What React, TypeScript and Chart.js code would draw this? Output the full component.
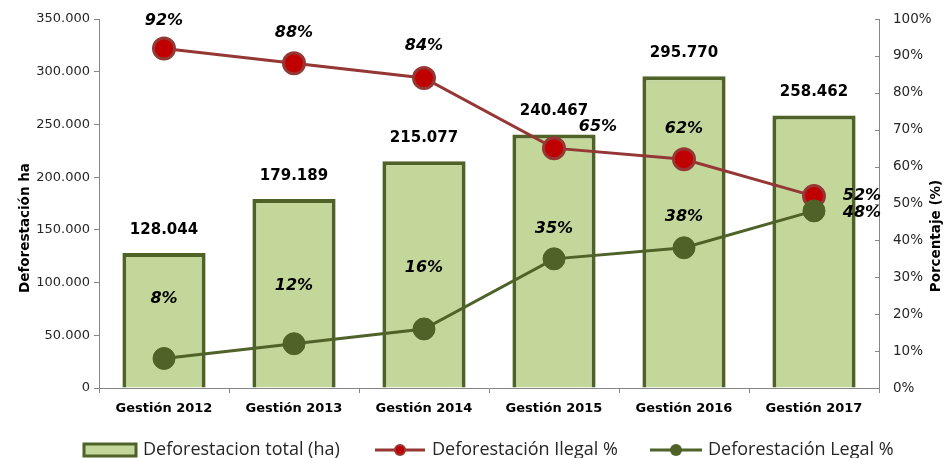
import React, { useEffect, useRef } from "react";
import { Chart, registerables } from "chart.js";

Chart.register(...registerables);

const categories = ["Gestión 2012", "Gestión 2013", "Gestión 2014", "Gestión 2015", "Gestión 2016", "Gestión 2017"];
const totalHa = [128044, 179189, 215077, 240467, 295770, 258462];
const ilegalPct = [92, 88, 84, 65, 62, 52];
const legalPct = [8, 12, 16, 35, 38, 48];
const leftTicks = [0, 50000, 100000, 150000, 200000, 250000, 300000, 350000];

const ilegalOffsets = [[0, -28], [0, -30], [0, -32], [44, -21], [0, -30], [48, 0]];
const legalOffsets = [[0, -60], [0, -58], [0, -61], [0, -30], [0, -31], [48, 2]];

const GREEN = "#4F6228";
const BAR_FILL = "#C4D79B";
const RED_LINE = "#953735";
const RED_FILL = "#C00000";
const AXIS = "#868686";

const fmt = (v: number) => {
  const s = Math.round(v).toString();
  return s.replace(/\B(?=(\d{3})+(?!\d))/g, ".");
};

const labelsPlugin = {
  id: "customLabels",
  afterDatasetsDraw(chart: any) {
    const ctx = chart.ctx;
    ctx.save();
    ctx.textAlign = "center";
    ctx.textBaseline = "middle";
    ctx.fillStyle = "#000";
    const barMeta = chart.getDatasetMeta(0);
    ctx.font = "bold 15px 'DejaVu Sans'";
    barMeta.data.forEach((el: any, i: number) => {
      ctx.fillText(fmt(totalHa[i]), el.x, el.y - 23);
    });
    ctx.font = "italic bold 16px 'DejaVu Sans'";
    const m1 = chart.getDatasetMeta(1);
    m1.data.forEach((el: any, i: number) => {
      const [dx, dy] = ilegalOffsets[i];
      ctx.fillText(ilegalPct[i] + "%", el.x + dx, el.y + dy);
    });
    const m2 = chart.getDatasetMeta(2);
    m2.data.forEach((el: any, i: number) => {
      const [dx, dy] = legalOffsets[i];
      ctx.fillText(legalPct[i] + "%", el.x + dx, el.y + dy);
    });
    ctx.restore();
  },
  afterDraw(chart: any) {
    const ctx = chart.ctx;
    const area = chart.chartArea;
    ctx.save();
    const y1 = chart.scales.y1;
    ctx.strokeStyle = AXIS;
    ctx.lineWidth = 1;
    y1.ticks.forEach((t: any) => {
      const yy = Math.round(y1.getPixelForValue(t.value)) + 0.5;
      ctx.beginPath();
      ctx.moveTo(area.right - 4, yy);
      ctx.lineTo(area.right, yy);
      ctx.stroke();
    });
    ctx.fillStyle = "#000";
    ctx.font = "bold 13.5px 'DejaVu Sans'";
    ctx.textAlign = "center";
    ctx.textBaseline = "middle";
    ctx.save();
    ctx.translate(25, 228);
    ctx.rotate(-Math.PI / 2);
    ctx.fillText("Deforestación ha", 0, 0);
    ctx.restore();
    ctx.save();
    ctx.translate(936, 236);
    ctx.rotate(-Math.PI / 2);
    ctx.fillText("Porcentaje (%)", 0, 0);
    ctx.restore();

    const ly = 450;
    ctx.font = "18px 'Open Sans'";
    ctx.textAlign = "left";
    ctx.fillStyle = BAR_FILL;
    ctx.fillRect(84, 444, 52, 12);
    ctx.strokeStyle = GREEN;
    ctx.lineWidth = 3;
    ctx.strokeRect(84, 444, 52, 12);
    ctx.fillStyle = "#262626";
    ctx.fillText("Deforestacion total (ha)", 143, ly);
    ctx.strokeStyle = RED_LINE;
    ctx.lineWidth = 3;
    ctx.beginPath();
    ctx.moveTo(375, ly);
    ctx.lineTo(425, ly);
    ctx.stroke();
    ctx.beginPath();
    ctx.arc(400, ly, 5, 0, Math.PI * 2);
    ctx.fillStyle = RED_FILL;
    ctx.fill();
    ctx.lineWidth = 2;
    ctx.stroke();
    ctx.fillStyle = "#262626";
    ctx.fillText("Deforestación Ilegal %", 432, ly);
    ctx.strokeStyle = GREEN;
    ctx.lineWidth = 3;
    ctx.beginPath();
    ctx.moveTo(650, ly);
    ctx.lineTo(702, ly);
    ctx.stroke();
    ctx.beginPath();
    ctx.arc(676, ly, 6, 0, Math.PI * 2);
    ctx.fillStyle = GREEN;
    ctx.fill();
    ctx.fillStyle = "#262626";
    ctx.fillText("Deforestación Legal %", 708, ly);
    ctx.restore();
  },
};

export default function App() {
  const ref = useRef<HTMLCanvasElement>(null);
  useEffect(() => {
    document.body.style.margin = "0";
    const chart = new Chart(ref.current as HTMLCanvasElement, {
      type: "bar",
      data: {
        labels: categories,
        datasets: [
          {
            type: "bar",
            label: "Deforestacion total (ha)",
            data: totalHa,
            backgroundColor: BAR_FILL,
            borderColor: GREEN,
            borderWidth: 4,
            barPercentage: 0.64,
            categoryPercentage: 1,
            yAxisID: "y",
            order: 2,
          },
          {
            type: "line",
            label: "Deforestación Ilegal %",
            data: ilegalPct,
            borderColor: RED_LINE,
            borderWidth: 3,
            pointRadius: 10.5,
            pointBackgroundColor: RED_FILL,
            pointBorderColor: RED_LINE,
            pointBorderWidth: 3,
            yAxisID: "y1",
            order: 1,
          },
          {
            type: "line",
            label: "Deforestación Legal %",
            data: legalPct,
            borderColor: GREEN,
            borderWidth: 3,
            pointRadius: 11,
            pointBackgroundColor: GREEN,
            pointBorderColor: GREEN,
            pointBorderWidth: 1,
            yAxisID: "y1",
            order: 0,
          },
        ],
      },
      options: {
        animation: false,
        responsive: false,
        layout: { padding: { top: 19, bottom: 40, left: 0, right: 0 } },
        plugins: { legend: { display: false }, tooltip: { enabled: false } },
        scales: {
          x: {
            offset: true,
            grid: { display: true, drawOnChartArea: false, drawTicks: true, tickLength: 5, color: AXIS, offset: true },
            border: { color: AXIS, width: 1 },
            ticks: { color: "#000", font: { family: "DejaVu Sans", size: 13, weight: "bold" }, padding: 8 },
            afterFit: (s: any) => { s.height = 30; s.paddingLeft = 0; s.paddingRight = 0; },
          },
          y: {
            position: "left",
            min: 0,
            max: 350000,
            afterBuildTicks: (s: any) => { s.ticks = leftTicks.map((v) => ({ value: v })); },
            grid: { drawOnChartArea: false, drawTicks: true, tickLength: 5, color: AXIS },
            border: { color: AXIS, width: 1 },
            ticks: { color: "#262626", font: { family: "DejaVu Sans", size: 13 }, padding: 4, callback: (v: any) => fmt(Number(v)) },
            afterFit: (s: any) => { s.width = 99; s.paddingTop = 0; s.paddingBottom = 0; },
          },
          y1: {
            position: "right",
            min: 0,
            max: 100,
            grid: { drawOnChartArea: false, drawTicks: false, color: AXIS },
            border: { color: AXIS, width: 1 },
            ticks: { stepSize: 10, color: "#262626", font: { family: "DejaVu Sans", size: 13.5 }, padding: 14, callback: (v: any) => v + "%" },
            afterFit: (s: any) => { s.width = 65; s.paddingTop = 0; s.paddingBottom = 0; },
          },
        },
      },
      plugins: [labelsPlugin],
    } as any);
    return () => chart.destroy();
  }, []);
  return (
    <div style={{ width: 944, height: 458 }}>
      <canvas ref={ref} width={944} height={458} style={{ display: "block" }} />
    </div>
  );
}
